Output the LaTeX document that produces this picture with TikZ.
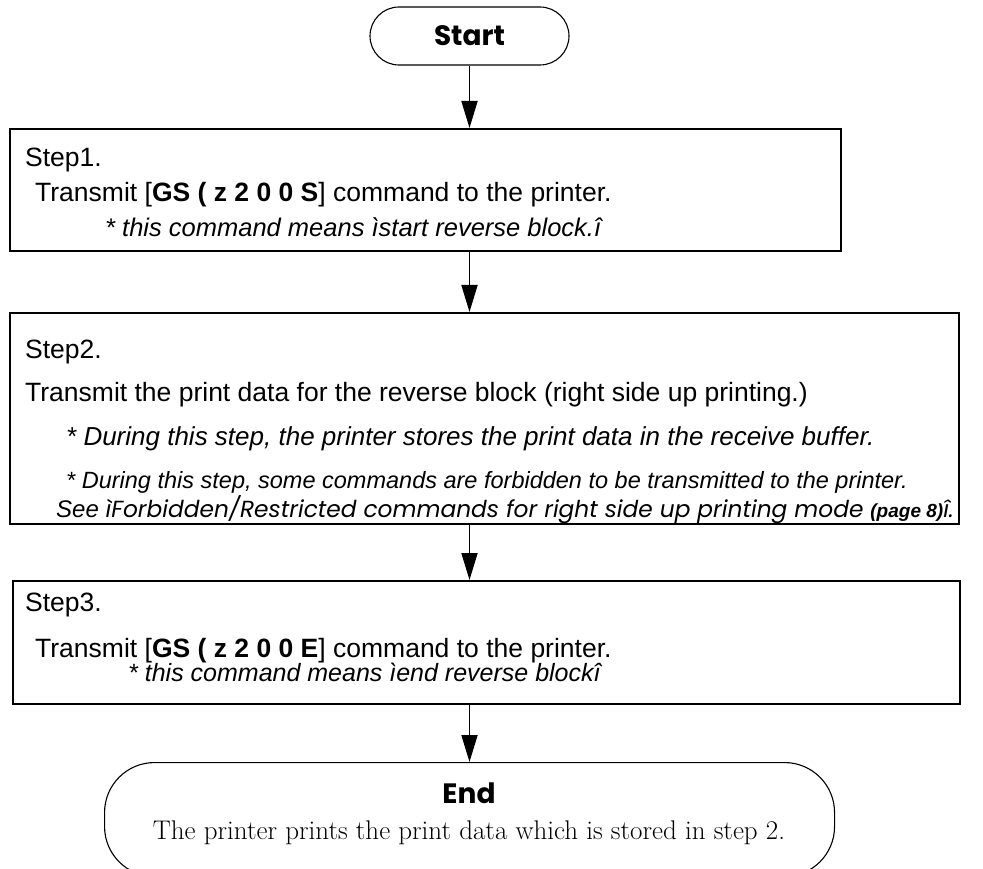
\documentclass[tikz,border=0pt]{standalone}
\usepackage{fontspec}
\newfontfamily\arial{Liberation Sans}
\newfontfamily\geo{Poppins}
\usetikzlibrary{arrows.meta}
\begin{document}
\begin{tikzpicture}[x=1pt,y=-1pt,
  boxst/.style={draw, line width=2.4pt, inner sep=0pt, anchor=north west},
  term/.style={draw, line width=1.1pt, inner sep=0pt},
  arr/.style={line width=1.8pt, -{Triangle[length=27pt,width=16pt]}},
  txt/.style={anchor=base west, inner sep=0pt, font=\arial\fontsize{26.5}{30}\selectfont},
  itxt/.style={anchor=base west, inner sep=0pt, font=\arial\itshape\fontsize{#1}{30}\selectfont},
]
\useasboundingbox (0,0) rectangle (983,869);

% terminals
\node[term, rounded corners=29pt, minimum width=199pt, minimum height=58pt,
      font=\geo\bfseries\fontsize{28}{30}\selectfont] (start) at (469.5,36) {Start};
\node[term, rounded corners=50pt, minimum width=730pt, minimum height=114pt, anchor=north west] (endbox) at (104,762) {};

% boxes
\node[boxst, minimum width=831pt, minimum height=122pt] (b1) at (9,128) {};
\node[boxst, minimum width=949pt, minimum height=211pt] (b2) at (9,312) {};
\node[boxst, minimum width=947pt, minimum height=123pt] (b3) at (12,580) {};

% box 1 text
\node[txt] (s1a) at (25,167) {Step1.};
\node[txt] (s1b) at (35,202) {Transmit [\textbf{GS ( z 2 0 0 S}] command to the printer.};
\node[itxt=25.5] (s1c) at (105,237) {* this command means ìstart reverse block.î};

% box 2 text
\node[txt] (s2a) at (25,358) {Step2.};
\node[txt] (s2b) at (25,401) {Transmit the print data for the reverse block (right side up printing.)};
\node[itxt=26] (s2c) at (66,445) {* During this step, the printer stores the print data in the receive buffer.};
\node[itxt=23.5] (s2d) at (66,488) {* During this step, some commands are forbidden to be transmitted to the printer.};
\node[anchor=base west, inner sep=0pt] (s2e) at (56,517)
  {{\arial\itshape\fontsize{24}{26}\selectfont See }{\geo\itshape\fontsize{23.3}{26}\selectfont ìForbidden/Restricted commands for right side up printing mode }{\arial\bfseries\itshape\fontsize{19}{26}\selectfont (page 8)}{\geo\itshape\fontsize{23.3}{26}\selectfont î.}};

% box 3 text
\node[txt] (s3a) at (25,611) {Step3.};
\node[txt] (s3b) at (35,657) {Transmit [\textbf{GS ( z 2 0 0 E}] command to the printer.};
\node[itxt=25] (s3c) at (128,681) {* this command means ìend reverse blockî};

% end text
\node[inner sep=0pt, font=\geo\bfseries\fontsize{28}{30}\selectfont] (endlbl) at (469,793) {End};
\node[anchor=base, inner sep=0pt, font=\fontsize{27}{30}\selectfont] (endtxt) at (469,839) {The printer prints the print data which is stored in step 2.};

% arrows
\draw[arr] (start.south) -- (start.south |- b1.north);
\draw[arr] (b1.south -| start.south) -- (start.south |- b2.north);
\draw[arr] (b2.south -| start.south) -- (start.south |- b3.north);
\draw[arr] (b3.south -| start.south) -- (start.south |- endbox.north);
\end{tikzpicture}
\end{document}
